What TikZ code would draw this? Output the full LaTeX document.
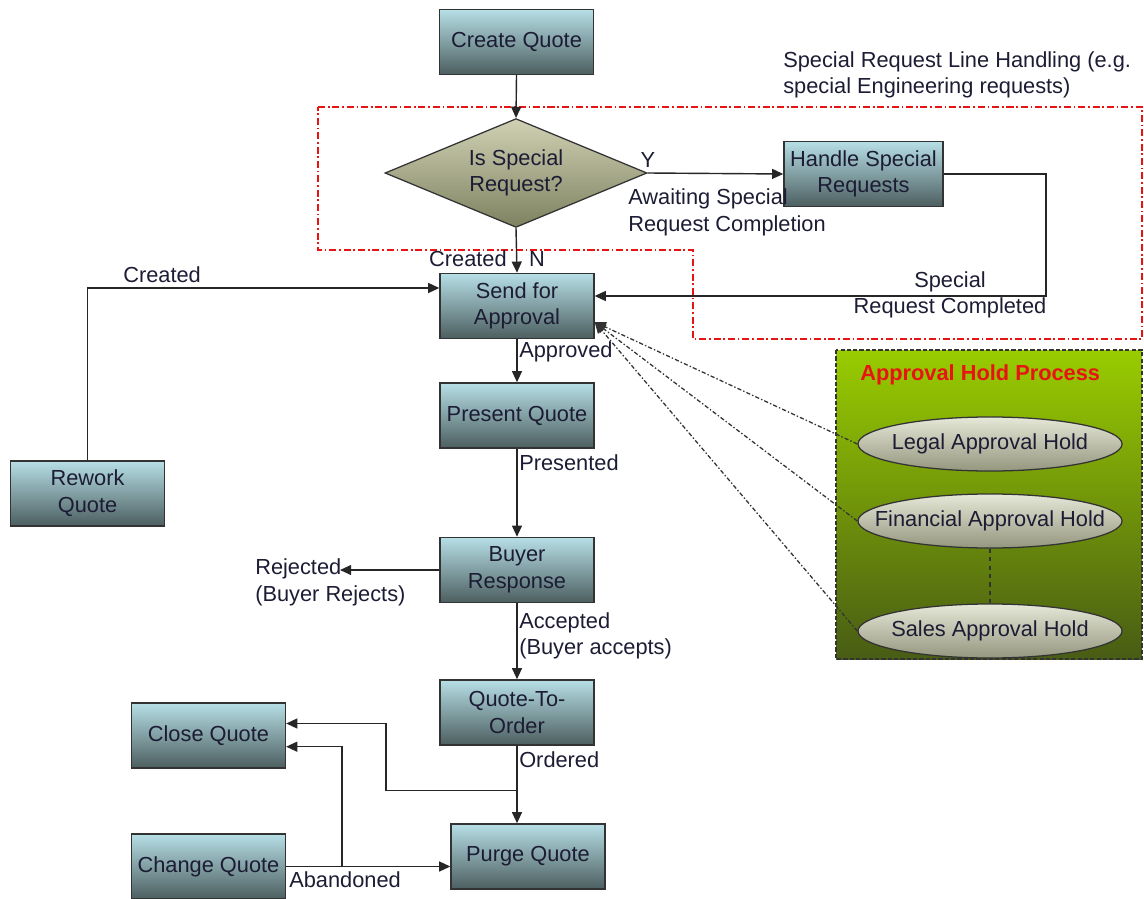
\documentclass[tikz,border=0pt]{standalone}
\usepackage{fontspec}
\setmainfont{Liberation Sans}
\usetikzlibrary{arrows.meta,shapes.geometric}
\definecolor{qtop}{RGB}{182,223,229}
\definecolor{qmid}{RGB}{140,178,184}
\definecolor{qbot}{RGB}{76,94,96}
\definecolor{dtop}{RGB}{208,209,180}
\definecolor{dbot}{RGB}{126,130,96}
\definecolor{otop}{RGB}{230,232,216}
\definecolor{obot}{RGB}{148,150,126}
\definecolor{gtop}{RGB}{153,204,0}
\definecolor{gbot}{RGB}{72,92,20}
\definecolor{ink}{RGB}{28,28,52}
\definecolor{alarm}{RGB}{232,20,20}
\newcommand\flowfont{\fontsize{15.5}{19}\selectfont}
\tikzset{
  >={Triangle[length=2.8mm,width=2.5mm]},
  qbox/.style={draw=black!80,line width=0.9pt,top color=qtop,middle color=qmid,bottom color=qbot,
    minimum width=3.85cm,minimum height=1.63cm,inner sep=1pt,align=center,font=\flowfont,text=ink},
  decision/.style={diamond,draw=black!80,line width=0.9pt,top color=dtop,bottom color=dbot,
    shape aspect=2.4,minimum width=6.55cm,minimum height=2.72cm,inner sep=0pt,align=center,
    font=\flowfont,text=ink},
  holdoval/.style={ellipse,draw=black!80,line width=0.9pt,top color=otop,bottom color=obot,
    minimum width=6.6cm,minimum height=1.35cm,inner sep=0pt},
  holdtext/.style={font=\flowfont,text=ink},
  tag/.style={font=\flowfont,text=ink,align=left,inner sep=0pt},
  flow/.style={->,line width=1pt,draw=black!85},
  region/.style={draw=alarm,line width=0.9pt,dash pattern=on 5pt off 2pt on 1.2pt off 2pt},
  holdlink/.style={->,line width=0.9pt,draw=black!80,dash pattern=on 3pt off 1.5pt on 1pt off 1.5pt},
}

\begin{document}
\begin{tikzpicture}[x=0.025cm,y=-0.025cm]
  \useasboundingbox (0,0) rectangle (1144,899);
  % approval hold panel and special request area
  \shade[top color=gtop,bottom color=gbot] (836,350) rectangle (1142,659);
  \draw[black!80,line width=0.8pt,dash pattern=on 3pt off 1.5pt] (836,350) rectangle (1142,659);
  \draw[region] (318,107) -- (1142,107) -- (1142,339) -- (693,339) -- (693,250) -- (318,250) -- cycle;

  \node[qbox] (create) at (516.5,42) {Create Quote};
  \node[decision] (special) at (516,173) {Is Special\\Request?};
  \node[qbox,minimum width=3.98cm] (handle) at (863.5,174) {Handle Special\\Requests};
  \node[qbox] (send) at (517,306) {Send for\\Approval};
  \node[qbox] (present) at (517,415.5) {Present Quote};
  \node[qbox] (buyer) at (517,570) {Buyer\\Response};
  \node[qbox] (q2o) at (517,712.5) {Quote-To-\\Order};
  \node[qbox] (purge) at (528,856.5) {Purge Quote};
  \node[qbox] (rework) at (87.5,493.5) {Rework\\Quote};
  \node[qbox] (close) at (208.5,735.5) {Close Quote};
  \node[qbox] (change) at (208.5,866.5) {Change Quote};

  \node[tag,anchor=west] (sreq) at (783,75) {Special Request Line Handling (e.g.\\special Engineering requests)};
  \node[tag] (yes) at (648,160) {Y};
  \node[tag,anchor=west] (await) at (628,212.5) {Awaiting Special\\Request Completion};
  \node[tag,anchor=east] (crtd) at (507,259) {Created};
  \node[tag] (no) at (537,259) {N};
  \node[tag,align=center] (done) at (950,295) {Special\\Request Completed};
  \node[tag,anchor=west] (rwcr) at (123,275) {Created};
  \node[tag,anchor=west] (appr) at (519,352) {Approved};
  \node[tag,anchor=west] (pres) at (519,463) {Presented};
  \node[tag,anchor=west] (rejt) at (255,582.5) {Rejected\\(Buyer Rejects)};
  \node[tag,anchor=west] (acc) at (519,636) {Accepted\\(Buyer accepts)};
  \node[tag,anchor=west] (ord) at (519,760) {Ordered};
  \node[tag,anchor=west] (abd) at (289,880) {Abandoned};
  \node[tag,anchor=west,text=alarm,font=\flowfont\bfseries] (holdttl) at (860,375) {Approval Hold Process};

  \foreach \n/\t/\y in {legal/Legal Approval Hold/444,fin/Financial Approval Hold/521,sales/Sales Approval Hold/631}
    \node[holdoval,label={[holdtext]center:\t}] (\n) at (990,\y) {};
  \draw[black!80,line width=0.8pt,dashed] (fin) -- (sales);

  % main flow
  \draw[flow] (create.south) -- (special.north);
  \draw[flow] (special.east) -- (handle.west);
  \draw[flow] (special.south) -- (send.north);
  \coordinate (sback) at (1046,296);
  \draw[flow] (handle.east) -| (sback) -- (sback -| send.east);
  \draw[flow] (rework.north) |- ([yshift=0.45cm]send.west);
  \draw[flow] (send) -- (present);
  \draw[flow] (present) -- (buyer);
  \coordinate (rej) at (340,570);
  \draw[flow] (buyer.west) -- (rej);
  \draw[flow] (buyer) -- (q2o);
  \draw[flow] (q2o.south) -- (q2o.south |- purge.north);
  \coordinate (split) at ([yshift=-1.125cm]q2o.south);
  \draw[flow] (split) -- ++(-131,0) |- ([yshift=0.3cm]close.east);
  \draw[flow] (change.east) -- (change.east -| purge.west);
  \coordinate (aband) at ([xshift=1.4cm]change.east);
  \draw[flow] (aband) |- ([yshift=-0.28cm]close.east);

  % hold links back to approval
  \coordinate (hin) at ([yshift=-0.4cm]send.east);
  \foreach \n in {legal,fin,sales}
    \draw[holdlink] (\n.west) -- (hin);
\end{tikzpicture}
\end{document}
